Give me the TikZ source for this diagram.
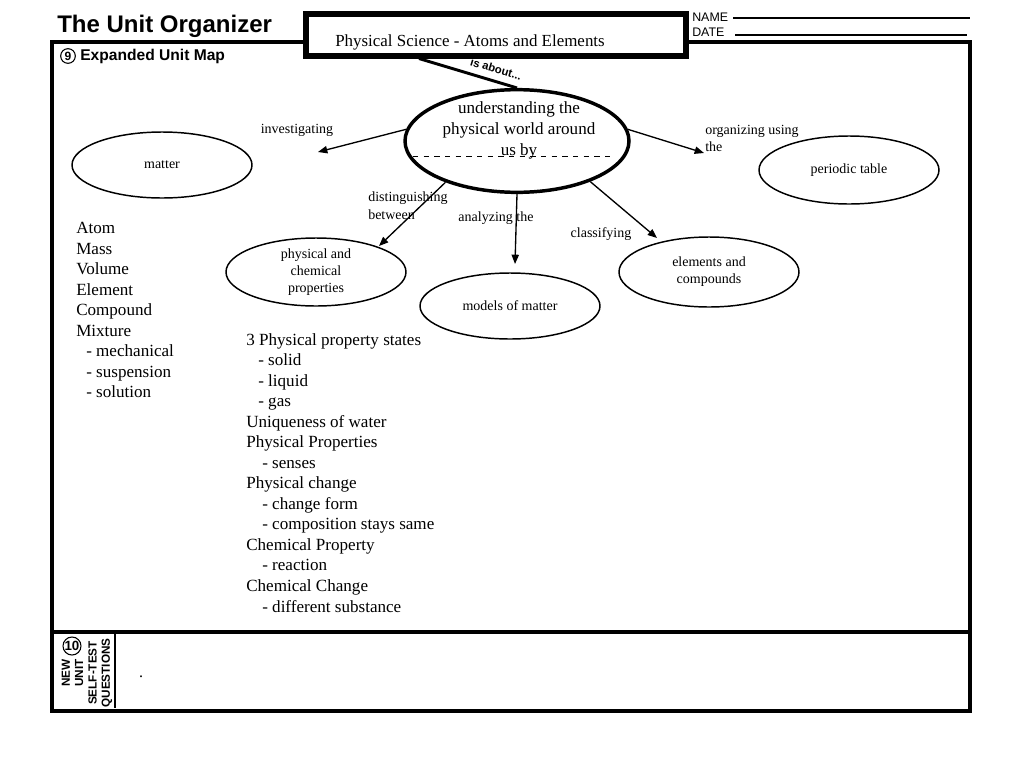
\documentclass[tikz,border=0pt]{standalone}
\usepackage{fontspec}
\setmainfont{Liberation Serif}
\setsansfont{Liberation Sans}
\usetikzlibrary{shapes.geometric,arrows.meta,calc}
\begin{document}
\begin{tikzpicture}[x=0.75pt,y=-0.75pt,
  bub/.style={ellipse,draw,line width=1.1pt,minimum width=135pt,minimum height=50pt,inner sep=0pt,align=center,font=\fontsize{10.5}{12.75}\selectfont},
  lbl/.style={font=\fontsize{10.5}{13}\selectfont,align=left,inner sep=0pt},
  arr/.style={line width=1pt,-{Triangle[length=7pt,width=5.5pt]}},
  lst/.style={font=\fontsize{12.8}{15.4}\selectfont,align=left,anchor=north west,inner sep=0pt},
  num/.style={circle,draw,line width=0.8pt,inner sep=0pt,font=\sffamily\bfseries\fontsize{9}{9}\selectfont},
  frame/.style={line width=2.3pt},
]
\useasboundingbox (0,0) rectangle (1024,768);

% header
\node[anchor=base west,inner sep=0pt,font=\sffamily\bfseries\fontsize{18}{20}\selectfont] (title) at (57,32) {The Unit Organizer};
\node[anchor=base west,inner sep=0pt,font=\sffamily\fontsize{9.3}{10}\selectfont] (name) at (692,21) {NAME};
\node[anchor=base west,inner sep=0pt,font=\sffamily\fontsize{9.3}{10}\selectfont] (date) at (692,36) {DATE};
\draw[line width=0.8pt] (733,18) -- (970,18);
\draw[line width=0.8pt] (735,35) -- (967,35);

% frame
\draw[frame] (52,42) rectangle (970,711);
\draw[frame] (52,632) -- (968,632);
\draw[line width=1.1pt] (115,632) -- (115,708);

% title box
\node[draw,fill=white,line width=3.8pt,minimum width=285pt,minimum height=31.5pt,inner sep=0pt] (box) at (496,35) {};
\node[font=\fontsize{12.7}{14}\selectfont,inner sep=0pt] (boxt) at (470,42) {Physical Science - Atoms and Elements};

\node[num,minimum size=11pt] (n9) at (68,56) {9};
\node[anchor=west,inner sep=0pt,font=\sffamily\bfseries\fontsize{11.7}{13}\selectfont] (eum) at (80,56) {Expanded Unit Map};

% central
\node[ellipse,draw,line width=2.6pt,minimum width=168pt,minimum height=77pt,inner sep=0pt] (c) at (517,141) {};
\node[font=\fontsize{12.8}{15.8}\selectfont,align=center,inner sep=0pt] (ct) at (519,130) {understanding the\\physical world around\\us by};
\draw[line width=0.7pt,dash pattern=on 4pt off 4pt] (413,156) -- (615,156);

\coordinate (ia) at ($(box.south west)!0.3!(box.south east)$);
\draw[line width=2.2pt] (ia) -- (c.north);
\node[rotate=-17,inner sep=0pt,font=\sffamily\bfseries\fontsize{8.5}{9}\selectfont] (isab) at (496,69) {is about...};

% outer bubbles
\node[bub,minimum height=49.5pt] (matter) at (162,165) {matter};
\node[bub,minimum height=51pt] (pt) at (849,170) {periodic table};
\node[bub,minimum height=51pt] (pcp) at (316,272) {physical and\\chemical\\properties};
\node[bub,minimum height=49.5pt] (mom) at (510,306) {models of matter};
\node[bub,minimum height=52.5pt] (eac) at (709,272) {elements and\\compounds};

% arrows
\coordinate (e1) at (318,152);
\coordinate (e2) at (704,153);
\coordinate (e3) at (379,246);
\coordinate (e4) at (515,264);
\coordinate (e5) at (657,238);
\draw[arr] (c.174) -- (e1);
\draw[arr] (c.6) -- (e2);
\draw[arr] (c.210) -- (e3);
\draw[arr] (c.270) -- (e4);
\draw[arr] (c.331) -- (e5);

\node[lbl] (l1) at (297,130) {investigating};
\node[lbl,anchor=north west] (l2) at (705,125) {organizing using\\the};
\node[lbl,anchor=north west] (l3) at (368,192) {distinguishing\\between};
\node[lbl] (l4) at (496,218) {analyzing the};
\node[lbl] (l5) at (601,234) {classifying};

% lists
\node[lst] (list1) at (76,222) {Atom\\Mass\\Volume\\Element\\Compound\\Mixture\\\hspace*{7.5pt}- mechanical\\\hspace*{7.5pt}- suspension\\\hspace*{7.5pt}- solution};
\node[lst] (list2) at (246,333) {3 Physical property states\\\hspace*{9pt}- solid\\\hspace*{9pt}- liquid\\\hspace*{9pt}- gas\\Uniqueness of water\\Physical Properties\\\hspace*{12pt}- senses\\Physical change\\\hspace*{12pt}- change form\\\hspace*{12pt}- composition stays same\\Chemical Property\\\hspace*{12pt}- reaction\\Chemical Change\\\hspace*{12pt}- different substance};

% bottom
\node[num,minimum size=13.5pt,font=\sffamily\bfseries\fontsize{10}{10}\selectfont] (n10) at (72,646) {10};
\node[rotate=90,align=center,inner sep=0pt,font=\sffamily\bfseries\fontsize{8.8}{10}\selectfont] (nust) at (87,673) {NEW\\UNIT\\SELF-TEST\\QUESTIONS};
\node[inner sep=0pt,font=\fontsize{12}{12}\selectfont] (dot) at (141,677) {.};
\end{tikzpicture}
\end{document}
